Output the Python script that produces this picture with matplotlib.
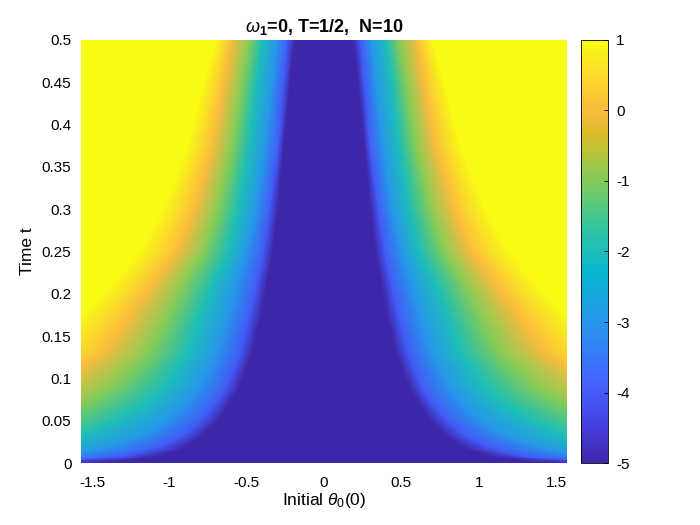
import matplotlib
matplotlib.use("Agg")
import matplotlib.pyplot as plt
import numpy as np
from matplotlib.colors import LinearSegmentedColormap

plt.rcParams['font.family'] = ['Liberation Sans', 'DejaVu Sans']
plt.rcParams['mathtext.fontset'] = 'custom'
plt.rcParams['mathtext.rm'] = 'Liberation Sans'
plt.rcParams['mathtext.it'] = 'Liberation Sans:italic'
plt.rcParams['mathtext.bf'] = 'Liberation Sans:bold'

times = [0.0, 0.002, 0.0077, 0.0175, 0.033, 0.053, 0.073, 0.092,
         0.132, 0.171, 0.211, 0.25, 0.3, 0.375, 0.44, 0.5]

# value levels of the fronts (right half, theta >= 0); first is the centre,
# the last one is a far node that keeps the saturated yellow
levels = [-5, -5, -4, -3, -2, -1, 0, 1, 1]

# theta position of each front per time row (dark edge, -4, -3, -2, -1, 0, 1)
fronts = [
    [1.45, 1.90, 2.40, 3.00, 3.60, 4.20, 4.80],
    [1.35, 1.75, 2.10, 2.60, 3.20, 3.80, 4.40],
    [1.08, 1.29, 1.70, 2.20, 2.80, 3.40, 4.00],
    [0.905, 1.08, 1.40, 1.85, 2.40, 3.00, 3.60],
    [0.78, 0.905, 1.16, 1.55, 2.05, 2.60, 3.20],
    [0.67, 0.78, 0.99, 1.31, 1.75, 2.25, 2.80],
    [0.60, 0.69, 0.88, 1.14, 1.51, 1.95, 2.40],
    [0.54, 0.625, 0.80, 1.03, 1.34, 1.75, 2.10],
    [0.46, 0.54, 0.69, 0.88, 1.12, 1.42, 1.75],
    [0.41, 0.485, 0.625, 0.81, 1.01, 1.27, 1.58],
    [0.37, 0.435, 0.565, 0.72, 0.90, 1.11, 1.37],
    [0.33, 0.39, 0.50, 0.62, 0.77, 0.95, 1.19],
    [0.30, 0.35, 0.44, 0.555, 0.68, 0.84, 1.04],
    [0.26, 0.295, 0.38, 0.485, 0.59, 0.72, 0.88],
    [0.225, 0.265, 0.34, 0.445, 0.535, 0.655, 0.79],
    [0.19, 0.235, 0.305, 0.40, 0.48, 0.60, 0.70],
]

xticks = [-1.5, -1, -0.5, 0, 0.5, 1, 1.5]
xticklabels = ['-1.5', '-1', '-0.5', '0', '0.5', '1', '1.5']
yticks = [0, 0.05, 0.1, 0.15, 0.2, 0.25, 0.3, 0.35, 0.4, 0.45, 0.5]
yticklabels = ['0', '0.05', '0.1', '0.15', '0.2', '0.25', '0.3', '0.35',
               '0.4', '0.45', '0.5']
cticks = [-5, -4, -3, -2, -1, 0, 1]

# MATLAB parula
parula = LinearSegmentedColormap.from_list('parula', [
    (0 / 9, (0.2422, 0.1504, 0.6603)),
    (1 / 9, (0.2803, 0.2782, 0.9221)),
    (2 / 9, (0.2440, 0.4358, 0.9988)),
    (3 / 9, (0.1540, 0.5902, 0.9218)),
    (4 / 9, (0.0297, 0.7082, 0.8163)),
    (5 / 9, (0.1938, 0.7758, 0.6251)),
    (6 / 9, (0.5044, 0.7993, 0.3480)),
    (7 / 9, (0.8634, 0.7406, 0.1596)),
    (0.835, (0.9850, 0.7350, 0.2450)),
    (8 / 9, (0.9892, 0.8136, 0.1885)),
    (9 / 9, (0.9769, 0.9839, 0.0805)),
], N=256)

# curvilinear mesh: nodes sit on the fronts, mirrored to theta < 0
n = len(times)
xr = np.zeros((n, len(levels)))
for i, row in enumerate(fronts):
    xr[i, 1:-1] = row
    xr[i, -1] = 5.5
X = np.hstack([-xr[:, ::-1], xr[:, 1:]])
Y = np.repeat(np.array(times)[:, None], X.shape[1], axis=1)
c = np.array(levels, dtype=float)
C = np.tile(np.concatenate([c[::-1], c[1:]]), (n, 1))

fig = plt.figure(figsize=(7, 5.25), dpi=100)
ax = fig.add_axes([0.116, 0.118, 0.694, 0.806])
mesh = ax.pcolormesh(X, Y, C, shading='gouraud', cmap=parula, vmin=-5, vmax=1)
ax.set_xlim(-np.pi / 2, np.pi / 2)
ax.set_ylim(0, 0.5)
ax.set_xticks(xticks)
ax.set_xticklabels(xticklabels)
ax.set_yticks(yticks)
ax.set_yticklabels(yticklabels)
ax.tick_params(length=0, labelsize=11)
ax.tick_params(axis='x', pad=9)
ax.tick_params(axis='y', pad=7)
for s in ax.spines.values():
    s.set_visible(False)
ax.set_xlabel(r'Initial $\theta_0$(0)', fontsize=12.5, labelpad=1)
ax.set_ylabel('Time t', fontsize=12.5, labelpad=5)
ax.set_title(r'$\omega_{\mathbf{1}}$=0, T=1/2,  N=10', fontsize=13,
             fontweight='bold', pad=6)

cax = fig.add_axes([0.830, 0.118, 0.038, 0.806])
cb = fig.colorbar(mesh, cax=cax, ticks=cticks)
cb.ax.set_yticklabels([str(v) for v in cticks])
cb.ax.tick_params(direction='in', length=3, width=0.6, labelsize=11, pad=6)
cb.outline.set_linewidth(0.6)

fig.savefig('out.png', dpi=100)
